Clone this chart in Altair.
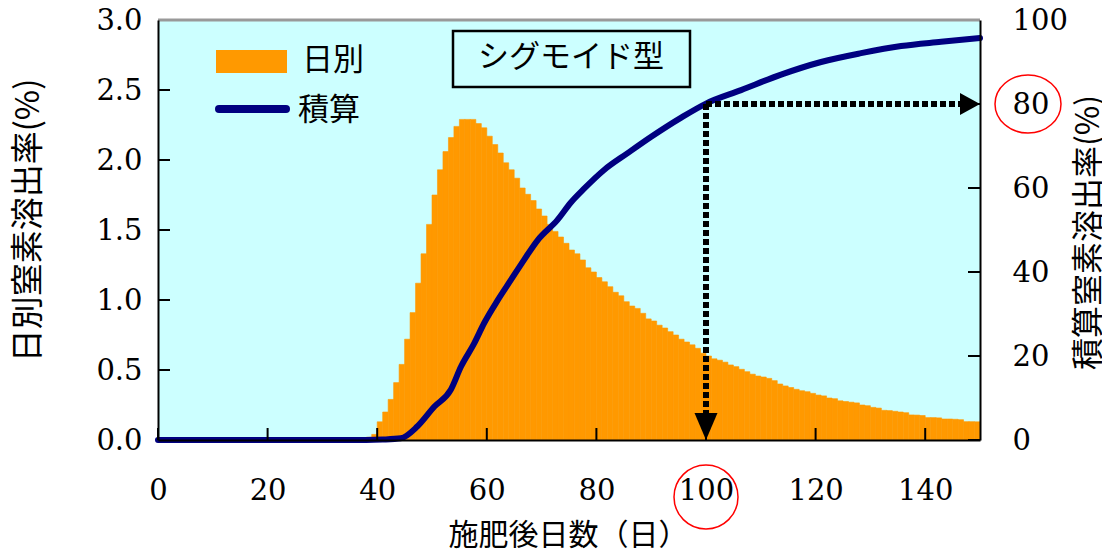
import altair as alt
import pandas as pd

# ---------------- data ----------------
daily_days = list(range(37, 150))
daily_vals = [
    0.01, 0.02, 0.04,                                   # 37-39
    0.13, 0.20, 0.29, 0.41, 0.54, 0.72, 0.91, 1.12, 1.33, 1.54,   # 40-49
    1.75, 1.93, 2.06, 2.16, 2.24, 2.29, 2.29, 2.29, 2.26, 2.23,   # 50-59
    2.17, 2.11, 2.05, 1.98, 1.93, 1.87, 1.80, 1.755, 1.71, 1.65,  # 60-69
    1.60, 1.54, 1.49, 1.45, 1.405, 1.357, 1.33, 1.286, 1.23, 1.20,  # 70-79
    1.16, 1.13, 1.095, 1.055, 1.03, 0.988, 0.957, 0.94, 0.905, 0.865,  # 80-89
    0.85, 0.82, 0.80, 0.774, 0.75, 0.72, 0.70, 0.68, 0.655, 0.62,  # 90-99
    0.60, 0.58, 0.57, 0.556, 0.536, 0.524, 0.505, 0.488, 0.47, 0.457,  # 100-109
    0.45, 0.44, 0.424, 0.40, 0.386, 0.375, 0.362, 0.352, 0.345, 0.333,  # 110-119
    0.321, 0.315, 0.30, 0.295, 0.28, 0.275, 0.27, 0.265, 0.25, 0.245,  # 120-129
    0.233, 0.228, 0.212, 0.21, 0.205, 0.20, 0.195, 0.179, 0.178, 0.175,  # 130-139
    0.16, 0.16, 0.158, 0.15, 0.15, 0.148, 0.145, 0.131, 0.131, 0.13,  # 140-149
]
cum_days = [0, 38, 41, 44.3, 47.3, 50.4, 53.4, 55.3, 57.7, 59.5, 62, 64.4, 66.8,
            69.3, 72.9, 75.3, 77.8, 81.4, 85.7, 90, 95.4, 100, 106.4, 113.7,
            121, 128.3, 135.6, 142.9, 150]
cum_vals = [0, 0, 0.1, 0.4, 3.2, 7.9, 11.9, 17.5, 23.0, 27.8, 33.3, 38.1, 42.9,
            47.6, 52.4, 56.5, 59.9, 64.3, 68.3, 72.2, 76.7, 80.1, 83.3, 87.0,
            90.0, 92.1, 93.8, 94.8, 95.7]

left_ticks = [0, 0.5, 1.0, 1.5, 2.0, 2.5, 3.0]
right_ticks = [0, 20, 40, 60, 80, 100]
x_ticks = [0, 20, 40, 60, 80, 100, 120, 140]

mark_day = 100
mark_pct = 80
x_end = 150

series_names = ["日別", "積算"]
badge_text = "シグモイド型"
x_title = "施肥後日数（日）"
left_title = "日別窒素溶出率(%)"
right_title = "積算窒素溶出率(%)"

# ---------------- styling ----------------
W, H = 822, 420
ORANGE = "#FF9900"
NAVY = "#000080"
BG = "#CCFFFF"
NUM_FONT = "DejaVu Serif"
JP_FONT = "Noto Sans CJK JP"

common_axis = dict(
    labelFont=NUM_FONT, labelFontSize=29, labelColor="black",
    ticks=False, tickSize=0, domain=True, domainColor="black", domainWidth=2,
    grid=False, titleFont=JP_FONT, titleFontWeight="normal",
    titleColor="black", titleAlign="center", titleBaseline="middle",
    zindex=1, labelOverlap=False, labelFlush=False,
)

x_scale = alt.Scale(domain=[0, x_end], nice=False, zero=False)
x_axis = alt.Axis(values=x_ticks, format="d", title=x_title, orient="bottom",
                  labelPadding=36, titleX=410, titleY=95, titleFontSize=30,
                  **common_axis)

yl_scale = alt.Scale(domain=[0, 3], nice=False, zero=True)
yl_axis = alt.Axis(values=left_ticks, format=".1f", title=left_title, orient="left",
                   labelPadding=16, titleAngle=270, titleX=-130, titleY=200,
                   titleFontSize=33, **common_axis)

yr_scale = alt.Scale(domain=[0, 100], nice=False, zero=True)
yr_axis = alt.Axis(values=right_ticks, format="d", title=right_title, orient="right",
                   labelPadding=32, labelAlign="left", titleAngle=270,
                   titleX=108, titleY=212, titleFontSize=32, **common_axis)


def X(field):
    return alt.X(field, type="quantitative", scale=x_scale, axis=x_axis)


def YL(field):
    return alt.Y(field, type="quantitative", scale=yl_scale, axis=yl_axis)


def YR(field):
    return alt.Y(field, type="quantitative", scale=yr_scale, axis=yr_axis)


one = pd.DataFrame({"k": [0]})

# ---------- left scale group ----------
daily_df = pd.DataFrame({"d": daily_days, "v": daily_vals})
bars = (
    alt.Chart(daily_df)
    .transform_calculate(d2="datum.d + 1", base="0")
    .mark_rect(color=ORANGE, stroke=ORANGE, strokeWidth=0.6)
    .encode(x=X("d"), x2=alt.X2("d2:Q"), y=YL("v"), y2=alt.Y2("base:Q"))
)
lticks = (
    alt.Chart(pd.DataFrame({"v": left_ticks}))
    .mark_rule(color="black", strokeWidth=2)
    .encode(y=YL("v"), x=alt.value(0), x2=alt.value(12))
)
left_group = alt.layer(bars, lticks)

# ---------- right scale group ----------
cum_df = pd.DataFrame({"d": cum_days, "v": cum_vals})
line = (
    alt.Chart(cum_df)
    .mark_line(color=NAVY, strokeWidth=6, strokeJoin="round", strokeCap="round",
               interpolate="monotone")
    .encode(x=X("d"), y=YR("v"))
)
rticks = (
    alt.Chart(pd.DataFrame({"v": right_ticks}))
    .mark_rule(color="black", strokeWidth=2)
    .encode(y=YR("v"), x=alt.value(W - 12), x2=alt.value(W))
)
vdrop = (
    alt.Chart(pd.DataFrame({"d": [mark_day], "v": [mark_pct], "v2": [6]}))
    .mark_rule(color="black", strokeWidth=6, strokeDash=[6, 3])
    .encode(x=X("d"), y=YR("v"), y2=alt.Y2("v2:Q"))
)
hline = (
    alt.Chart(pd.DataFrame({"d": [mark_day], "d2": [x_end - 3], "v": [mark_pct]}))
    .mark_rule(color="black", strokeWidth=6, strokeDash=[6, 3])
    .encode(x=X("d"), x2=alt.X2("d2:Q"), y=YR("v"))
)
DOWN = "M-0.85,-1L0.85,-1L0,1Z"
RIGHT = "M-1,-1.1L1,0L-1,1.1Z"
arrow_down = (
    alt.Chart(pd.DataFrame({"d": [mark_day], "v": [0]}))
    .mark_point(shape=DOWN, size=729, filled=True, color="black", opacity=1, yOffset=-13.5)
    .encode(x=X("d"), y=YR("v"))
)
arrow_right = (
    alt.Chart(pd.DataFrame({"d": [x_end], "v": [mark_pct]}))
    .mark_point(shape=RIGHT, size=400, filled=True, color="black", opacity=1, xOffset=-10)
    .encode(x=X("d"), y=YR("v"))
)
ELLIPSE = "M-1,0A1,0.88,0,1,1,1,0A1,0.88,0,1,1,-1,0Z"
circle80 = (
    alt.Chart(pd.DataFrame({"v": [mark_pct]}))
    .mark_point(shape=ELLIPSE, size=4356, filled=False, color="red", strokeWidth=1.5, opacity=1)
    .encode(x=alt.value(870), y=YR("v"))
)
right_group = alt.layer(line, rticks, vdrop, hline, arrow_down, arrow_right, circle80)

# ---------- decorations ----------
bticks = (
    alt.Chart(pd.DataFrame({"d": x_ticks}))
    .mark_rule(color="black", strokeWidth=2)
    .encode(x=X("d"), y=alt.value(H - 12), y2=alt.value(H))
)
top_border = (
    alt.Chart(one).mark_rule(color="#999999", strokeWidth=3)
    .encode(x=alt.value(0), x2=alt.value(W), y=alt.value(0))
)
circle100 = (
    alt.Chart(pd.DataFrame({"d": [mark_day]}))
    .mark_point(shape="circle", size=4096, filled=False, color="red", strokeWidth=1.5, opacity=1)
    .encode(x=X("d"), y=alt.value(H + 57))
)
leg_rect = (
    alt.Chart(one).mark_rect(color=ORANGE)
    .encode(x=alt.value(58), x2=alt.value(129), y=alt.value(30), y2=alt.value(53))
)
leg_line = (
    alt.Chart(one).mark_rule(color=NAVY, strokeWidth=8, strokeCap="round")
    .encode(x=alt.value(61), x2=alt.value(128), y=alt.value(89))
)
leg_t1 = (
    alt.Chart(one).mark_text(font=JP_FONT, fontSize=31, align="left", baseline="middle", color="black")
    .encode(x=alt.value(144), y=alt.value(41), text=alt.value(series_names[0]))
)
leg_t2 = (
    alt.Chart(one).mark_text(font=JP_FONT, fontSize=31, align="left", baseline="middle", color="black")
    .encode(x=alt.value(140), y=alt.value(91), text=alt.value(series_names[1]))
)
badge_box = (
    alt.Chart(one).mark_rect(fill=BG, stroke="black", strokeWidth=2.5)
    .encode(x=alt.value(295), x2=alt.value(532), y=alt.value(11), y2=alt.value(67))
)
badge_txt = (
    alt.Chart(one).mark_text(font=JP_FONT, fontSize=31, align="center", baseline="middle", color="black")
    .encode(x=alt.value(413), y=alt.value(38), text=alt.value(badge_text))
)

chart = (
    alt.layer(left_group, right_group, bticks, top_border, circle100,
              leg_rect, leg_line, leg_t1, leg_t2, badge_box, badge_txt)
    .resolve_scale(y="independent")
    .properties(
        width=W, height=H,
        autosize=alt.AutoSizeParams(type="none"),
        padding={"left": 150, "top": 12, "right": 122, "bottom": 110},
        background="white",
    )
    .configure_view(fill=BG, stroke=None)
)

chart.save("out.html", embed_options={"renderer": "svg", "actions": False})
